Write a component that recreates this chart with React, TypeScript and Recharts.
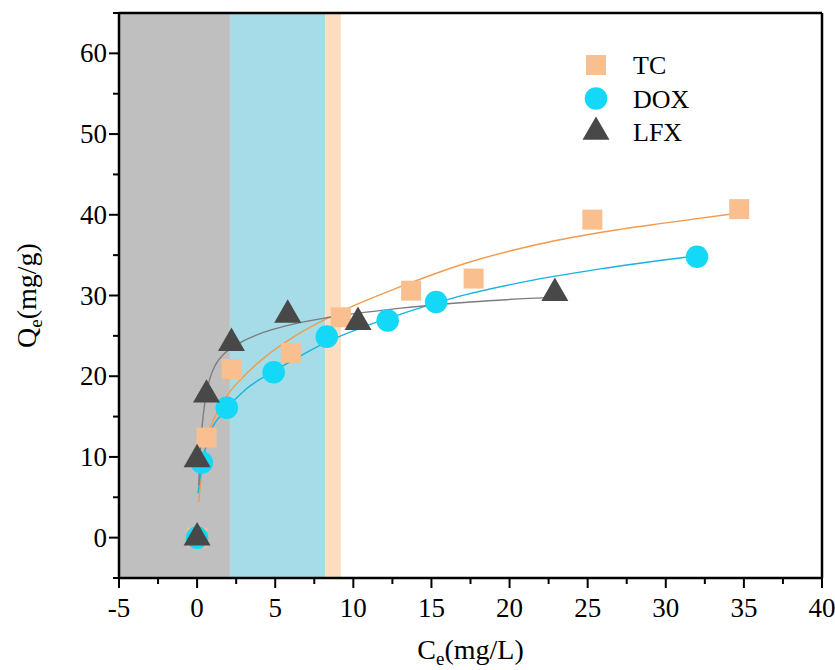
import {
  ComposedChart,
  XAxis,
  YAxis,
  Line,
  Scatter,
  ReferenceArea,
  ReferenceLine,
  Legend,
  Label,
} from "recharts";

// measured points (Ce, Qe)
const tcPoints = [
  { x: 0, y: 0 },
  { x: 0.6, y: 12.4 },
  { x: 2.2, y: 20.9 },
  { x: 6.0, y: 22.9 },
  { x: 9.2, y: 27.3 },
  { x: 13.7, y: 30.6 },
  { x: 17.7, y: 32.1 },
  { x: 25.3, y: 39.4 },
  { x: 34.7, y: 40.7 },
];
const doxPoints = [
  { x: 0, y: 0 },
  { x: 0.3, y: 9.3 },
  { x: 1.9, y: 16.1 },
  { x: 4.9, y: 20.5 },
  { x: 8.3, y: 24.9 },
  { x: 12.2, y: 26.9 },
  { x: 15.3, y: 29.2 },
  { x: 32.0, y: 34.8 },
];
const lfxPoints = [
  { x: 0, y: 0 },
  { x: 0, y: 9.7 },
  { x: 0.6, y: 17.7 },
  { x: 2.2, y: 24.1 },
  { x: 5.8, y: 27.6 },
  { x: 10.3, y: 26.7 },
  { x: 22.9, y: 30.3 },
];

// fitted curves
const tcFit = [
  { x: 0.1, y: 4.4 },
  { x: 0.32, y: 8.4 },
  { x: 0.64, y: 12.1 },
  { x: 1.28, y: 15.5 },
  { x: 1.92, y: 17.6 },
  { x: 3.2, y: 20.4 },
  { x: 4.3, y: 22.3 },
  { x: 6.2, y: 24.9 },
  { x: 9.2, y: 28.0 },
  { x: 12.9, y: 31.0 },
  { x: 17.2, y: 34.0 },
  { x: 21.5, y: 36.2 },
  { x: 25.8, y: 37.8 },
  { x: 30.0, y: 39.0 },
  { x: 34.6, y: 40.2 },
];
const doxFit = [
  { x: 0.06, y: 5.5 },
  { x: 0.32, y: 9.2 },
  { x: 0.85, y: 13.0 },
  { x: 1.8, y: 15.7 },
  { x: 3.2, y: 18.5 },
  { x: 4.9, y: 20.6 },
  { x: 6.5, y: 22.4 },
  { x: 8.25, y: 24.2 },
  { x: 10.5, y: 26.0 },
  { x: 12.9, y: 27.6 },
  { x: 17.2, y: 30.1 },
  { x: 21.5, y: 31.9 },
  { x: 25.8, y: 33.3 },
  { x: 31.9, y: 34.9 },
];
const lfxFit = [
  { x: 0.1, y: 6.5 },
  { x: 0.2, y: 10.5 },
  { x: 0.33, y: 14.0 },
  { x: 0.5, y: 16.8 },
  { x: 0.8, y: 19.6 },
  { x: 1.2, y: 21.5 },
  { x: 1.8, y: 22.9 },
  { x: 2.8, y: 24.2 },
  { x: 4.2, y: 25.4 },
  { x: 5.6, y: 26.2 },
  { x: 8.5, y: 27.3 },
  { x: 12.9, y: 28.4 },
  { x: 17.5, y: 29.2 },
  { x: 22.9, y: 29.8 },
];

// shaded Ce ranges
const bands = [
  { from: -5, to: 2.1, color: "#BFBFBF" },
  { from: 2.1, to: 8.2, color: "#A5DCE7" },
  { from: 8.2, to: 9.2, color: "#FDDCC0" },
];

const xTicks = [-5, -2.5, 0, 2.5, 5, 7.5, 10, 12.5, 15, 17.5, 20, 22.5, 25, 27.5, 30, 32.5, 35, 37.5, 40];
const yTicks = [-5, 0, 5, 10, 15, 20, 25, 30, 35, 40, 45, 50, 55, 60, 65];

const FONT = '"Liberation Serif", "Times New Roman", serif';

type Kind = "square" | "circle" | "triangle";

const series: { name: string; kind: Kind; fill: string; line: string }[] = [
  { name: "TC", kind: "square", fill: "#F9BF8E", line: "#F39A4C" },
  { name: "DOX", kind: "circle", fill: "#14D8F7", line: "#16B4DE" },
  { name: "LFX", kind: "triangle", fill: "#484848", line: "#7C7C7C" },
];

function Marker({ kind, cx, cy, fill }: { kind: Kind; cx: number; cy: number; fill: string }) {
  if (kind === "square") return <rect x={cx - 10} y={cy - 10} width={20} height={20} fill={fill} />;
  if (kind === "circle") return <circle cx={cx} cy={cy} r={11.3} fill={fill} />;
  const h = 23.4;
  const b = 13.5;
  return (
    <polygon
      points={`${cx},${cy - (2 * h) / 3} ${cx - b},${cy + h / 3} ${cx + b},${cy + h / 3}`}
      fill={fill}
    />
  );
}

const isMajor = (v: number) => Math.abs(v % 5) < 1e-6;

const XTick = (props: any) => {
  const { x, y, payload } = props;
  const v = payload.value;
  const major = isMajor(v);
  return (
    <g>
      <line x1={x} x2={x} y1={y} y2={y + (major ? 10 : 6)} stroke="#000" strokeWidth={2} />
      {major && (
        <text x={x} y={y + 39} textAnchor="middle" fontSize={27} fontFamily={FONT} fill="#000">
          {v}
        </text>
      )}
    </g>
  );
};

const YTick = (props: any) => {
  const { x, y, payload } = props;
  const v = payload.value;
  const major = isMajor(v) && v % 10 === 0 && v >= 0 && v <= 60;
  return (
    <g>
      <line x1={x} x2={x - (major ? 10 : 6)} y1={y} y2={y} stroke="#000" strokeWidth={2} />
      {major && (
        <text x={x - 12} y={y + 9} textAnchor="end" fontSize={27} fontFamily={FONT} fill="#000">
          {v}
        </text>
      )}
    </g>
  );
};

const LegendBox = () => (
  <svg width={160} height={110}>
    {series.map((s, i) => (
      <g key={s.name}>
        <Marker kind={s.kind} cx={19} cy={20 + i * 33.5} fill={s.fill} />
        <text x={56} y={29 + i * 33.5} fontSize={26} fontFamily={FONT} fill="#000">
          {s.name}
        </text>
      </g>
    ))}
  </svg>
);

const pointSets = [tcPoints, doxPoints, lfxPoints];
const fitSets = [tcFit, doxFit, lfxFit];

export default function App() {
  return (
    <div style={{ position: "absolute", left: 0, top: 0 }}>
      <ComposedChart width={835} height={670} margin={{ top: 13, right: 13, bottom: 0, left: 0 }}>
        {bands.map((b) => (
          <ReferenceArea
            key={b.from}
            x1={b.from}
            x2={b.to}
            fill={b.color}
            fillOpacity={1}
            stroke="none"
            ifOverflow="hidden"
          />
        ))}
        <XAxis
          type="number"
          dataKey="x"
          domain={[-5, 40]}
          ticks={xTicks}
          interval={0}
          height={92}
          tickSize={0}
          tickMargin={0}
          tickLine={false}
          tick={<XTick />}
          axisLine={{ stroke: "#000", strokeWidth: 2.5 }}
          allowDataOverflow
        >
          <Label
            content={(p: any) => {
              const vb = p.viewBox;
              const cx = vb.x + vb.width / 2;
              return (
                <text x={cx} y={659} textAnchor="middle" fontSize={28} fontFamily={FONT} fill="#000">
                  C<tspan fontSize={19} dy={6}>e</tspan>
                  <tspan dy={-6}>(mg/L)</tspan>
                </text>
              );
            }}
          />
        </XAxis>
        <YAxis
          type="number"
          dataKey="y"
          domain={[-5, 65]}
          ticks={yTicks}
          interval={0}
          width={119}
          tickSize={0}
          tickMargin={0}
          tickLine={false}
          tick={<YTick />}
          axisLine={{ stroke: "#000", strokeWidth: 2.5 }}
          allowDataOverflow
        >
          <Label
            content={(p: any) => {
              const vb = p.viewBox;
              const cy = vb.y + vb.height / 2;
              return (
                <text
                  x={36}
                  y={cy}
                  transform={`rotate(-90, 36, ${cy})`}
                  textAnchor="middle"
                  fontSize={28}
                  fontFamily={FONT}
                  fill="#000"
                >
                  Q<tspan fontSize={19} dy={6}>e</tspan>
                  <tspan dy={-6}>(mg/g)</tspan>
                </text>
              );
            }}
          />
        </YAxis>
        {series.map((s, i) => (
          <Scatter
            key={s.name + "-pts"}
            name={s.name}
            data={pointSets[i]}
            fill={s.fill}
            isAnimationActive={false}
            shape={(p: any) => <Marker kind={s.kind} cx={p.cx} cy={p.cy} fill={s.fill} />}
          />
        )).slice(0, 2)}
        {series.map((s, i) => (
          <Line
            key={s.name + "-fit"}
            data={fitSets[i]}
            dataKey="y"
            type="monotone"
            stroke={s.line}
            strokeWidth={1.4}
            dot={false}
            activeDot={false}
            legendType="none"
            isAnimationActive={false}
          />
        ))}
        <Scatter
          name={series[2].name}
          data={lfxPoints}
          fill={series[2].fill}
          isAnimationActive={false}
          shape={(p: any) => <Marker kind="triangle" cx={p.cx} cy={p.cy} fill={series[2].fill} />}
        />
        <ReferenceLine y={65} stroke="#000" strokeWidth={2.5} />
        <ReferenceLine x={40} stroke="#000" strokeWidth={2.5} />
        <Legend
          layout="vertical"
          align="center"
          verticalAlign="middle"
          content={<LegendBox />}
          wrapperStyle={{ left: 577, top: 45, width: 160 }}
        />
      </ComposedChart>
    </div>
  );
}
